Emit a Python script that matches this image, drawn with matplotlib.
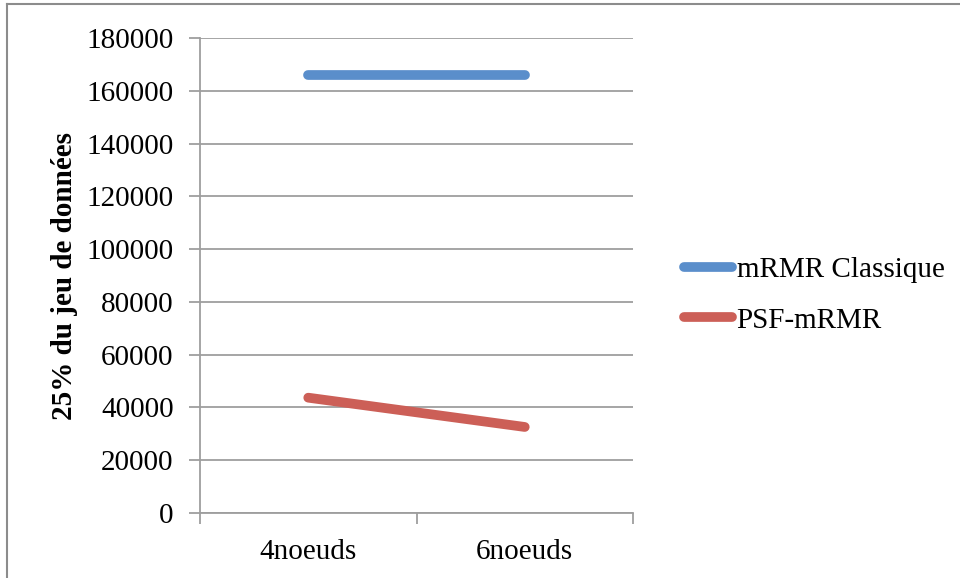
import numpy as np
import matplotlib.pyplot as plt
from matplotlib.lines import Line2D

# --- data ---
categories = ["4noeuds", "6noeuds"]
classique = [165800, 165800]
psf = [43700, 32600]
y_ticks = list(range(0, 180001, 20000))

plt.rcParams['font.family'] = ['Liberation Serif', 'DejaVu Serif']

blue = '#5a8ecb'
red = '#cc5f57'
grid_color = '#9e9e9e'
fs = 21

fig = plt.figure(figsize=(9.6, 5.78), dpi=100)
fig.patch.set_facecolor('white')

# outer chart border (only top/left visible in the crop)
fig.add_artist(Line2D([7 / 960, 7 / 960], [0, 1 - 4 / 578], transform=fig.transFigure,
                      color='#8c8c8c', linewidth=1.5))
fig.add_artist(Line2D([7 / 960, 1], [1 - 4 / 578, 1 - 4 / 578], transform=fig.transFigure,
                      color='#8c8c8c', linewidth=1.5))

ax = fig.add_axes([200 / 960, 1 - 513 / 578, 433 / 960, 475 / 578])
x = np.arange(len(categories))

ax.plot(x, classique, color=blue, linewidth=7, solid_capstyle='round', label='mRMR Classique', zorder=3)
ax.plot(x, psf, color=red, linewidth=7, solid_capstyle='round', label='PSF-mRMR', zorder=3)

ax.set_xlim(-0.5, 1.5)
ax.set_ylim(0, 180000)
ax.set_yticks(y_ticks)
ax.set_yticklabels([str(v) for v in y_ticks])
ax.yaxis.grid(True, color=grid_color, linewidth=1.3)
ax.set_axisbelow(True)

# categories sit between the tick marks
ax.set_xticks([-0.5, 0.5, 1.5])
ax.set_xticklabels([])
ax.set_xticks(x, minor=True)
ax.set_xticklabels(categories, minor=True)
ax.tick_params(axis='x', which='major', direction='out', length=8, width=1.3, color=grid_color)
ax.tick_params(axis='x', which='minor', length=0, pad=19, labelsize=fs)
ax.tick_params(axis='y', direction='out', length=8, width=1.3, color=grid_color, pad=11, labelsize=fs)

for s in ['top', 'right']:
    ax.spines[s].set_visible(False)
for s in ['left', 'bottom']:
    ax.spines[s].set_color(grid_color)
    ax.spines[s].set_linewidth(1.3)

ax.set_ylabel("25% du jeu de données", fontsize=fs, fontweight='bold', labelpad=6)

ax.legend(loc='upper left', bbox_to_anchor=(1.118, 0.54), frameon=False, fontsize=fs,
          borderpad=0, borderaxespad=0,
          handlelength=1.65, handletextpad=0.15, labelspacing=0.83)

fig.savefig('out.png', dpi=100, facecolor='white')
